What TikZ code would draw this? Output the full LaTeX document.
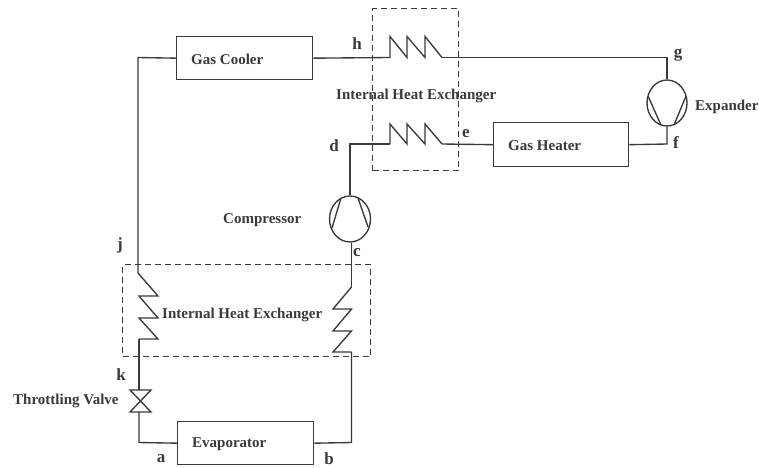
\documentclass[tikz,border=0pt]{standalone}
\usepackage{fontspec}
\setmainfont{Liberation Serif}
\definecolor{ink}{HTML}{3A3A3A}
\usetikzlibrary{shapes.geometric}
\tikzset{
  pipe/.style={draw=ink,line width=1.35pt,line join=miter},
  unitbox/.style={draw=ink,line width=1.35pt,inner sep=0pt},
  hxframe/.style={draw=ink,line width=1.35pt,dash pattern=on 6pt off 4pt},
  captext/.style={font=\bfseries\fontsize{15}{17}\selectfont,text=ink,inner sep=0pt},
  statept/.style={font=\bfseries\fontsize{17}{18}\selectfont,text=ink,inner sep=0pt},
  machine/.style={draw=ink,line width=1.35pt,ellipse,inner sep=0pt}
}
\begin{document}
\begin{tikzpicture}[x=1pt,y=-1pt]
\useasboundingbox[fill=white] (0,0) rectangle (759,467);
% dashed heat exchanger frames
\node[hxframe,minimum width=86pt,minimum height=162pt,anchor=north west] (hxtop) at (372,8) {};
\node[hxframe,minimum width=248pt,minimum height=92pt,anchor=north west] (hxlow) at (122,264) {};
% units
\node[unitbox,minimum width=136pt,minimum height=43pt,anchor=north west] (cooler) at (176,36) {};
\node[unitbox,minimum width=135pt,minimum height=44pt,anchor=north west] (heater) at (493,122) {};
\node[unitbox,minimum width=136pt,minimum height=43pt,anchor=north west] (evap) at (177,421) {};
\node[machine,minimum width=40pt,minimum height=46pt] (exp) at (667,103) {};
\node[machine,minimum width=41pt,minimum height=46pt] (comp) at (350,219) {};
% corner points
\coordinate (tl) at (138,57.5);
\coordinate (jz) at (138,273);
\coordinate (kz) at (139,339);
\coordinate (vt) at (139,390);
\coordinate (vb) at (139,412);
\coordinate (bl) at (139,442.5);
\coordinate (br) at (351.5,442.5);
\coordinate (bz) at (351.5,352);
\coordinate (cz) at (351.5,287);
\coordinate (tr) at (667,57.5);
\coordinate (fr) at (667,144);
\coordinate (dc) at (350,144);
\coordinate (hs) at (390,57.5);
\coordinate (he) at (442,57.5);
\coordinate (ds) at (390,144);
\coordinate (de) at (442,144);
% pipes
\draw[pipe] (cooler.west) -- (tl) -- (jz);
\draw[pipe] (jz) -- (158,296) -- (139,296) -- (158,318) -- (139,318) -- (158,339) -- (kz);
\draw[pipe] (kz) -- (vt);
\draw[pipe] (vt) -- (151,390) -- (130,412) -- (151,412) -- (130,390) -- cycle;
\draw[pipe] (vb) -- (bl) -- (evap.west);
\draw[pipe] (evap.east) -- (br) -- (bz);
\draw[pipe] (bz) -- (333,352) -- (351.5,331) -- (333,331) -- (351.5,309) -- (333,309) -- (cz);
\draw[pipe] (cz) -- (comp.south -| cz);
\draw[pipe] (comp.north) -- (dc) -- (ds);
\draw[pipe] (ds) -- (390,124) -- (407,144) -- (407,124) -- (425,144) -- (425,124) -- (de);
\draw[pipe] (de) -- (heater.west);
\draw[pipe] (heater.east) -- (fr) -- (exp.south);
\draw[pipe] (exp.north) -- (tr) -- (he);
\draw[pipe] (he) -- (425,36.5) -- (425,57.5) -- (407,36.5) -- (407,57.5) -- (390,36.5) -- (hs);
\draw[pipe] (hs) -- (cooler.east);
% blades
\draw[pipe] (648,96) -- (661,125);
\draw[pipe] (686,96) -- (674,125);
\draw[pipe] (332,228) -- (341,198);
\draw[pipe] (368,227) -- (358,198);
% captions
\node[captext,anchor=west] (t1) at (191,59) {Gas Cooler};
\node[captext,anchor=west] (t2) at (508,146) {Gas Heater};
\node[captext,anchor=west] (t3) at (192,444) {Evaporator};
\node[captext,anchor=west] (t4) at (336,96) {Internal Heat Exchanger};
\node[captext,anchor=west] (t5) at (162,315) {Internal Heat Exchanger};
\node[captext,anchor=west] (t6) at (223,220) {Compressor};
\node[captext,anchor=west] (t7) at (695,107) {Expander};
\node[captext,anchor=west] (t8) at (13,401) {Throttling Valve};
% state points
\node[statept] (a) at (161,459) {a};
\node[statept] (b) at (329,458.5) {b};
\node[statept] (c) at (357,253) {c};
\node[statept] (d) at (334,146) {d};
\node[statept] (e) at (466,134) {e};
\node[statept] (f) at (676,143) {f};
\node[statept] (g) at (678,55) {g};
\node[statept] (h) at (357,44) {h};
\node[statept] (j) at (120,245) {j};
\node[statept] (k) at (121,375) {k};
\end{tikzpicture}
\end{document}
